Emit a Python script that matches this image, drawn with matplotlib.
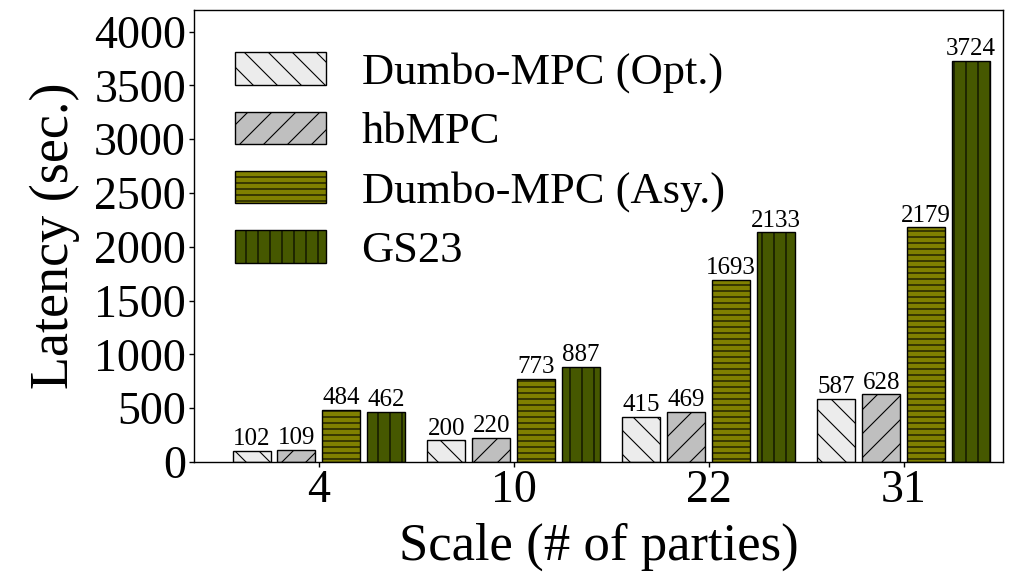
import numpy as np
import matplotlib.pyplot as plt

# saved at 72 dpi so a hatch tile is 72 px (denser hatches, like the reference)
DPI = 72
S = 100 / DPI   # sizes below were worked out at 100 dpi

plt.rcParams['font.family'] = ['Liberation Serif', 'DejaVu Serif']
plt.rcParams['hatch.linewidth'] = 1.1

# data
scales = ['4', '10', '22', '31']
series = ['Dumbo-MPC (Opt.)', 'hbMPC', 'Dumbo-MPC (Asy.)', 'GS23']
opt = [102, 200, 415, 587]
hbmpc = [109, 220, 469, 628]
asy = [484, 773, 1693, 2179]
gs23 = [462, 887, 2133, 3724]

colors = ['#ececec', '#bfbfbf', '#808000', '#465800']
hatches = ['\\', '/', '--', '|']

fig = plt.figure(figsize=(1018 / DPI, 581 / DPI), dpi=DPI)
ax = fig.add_axes([194 / 1018, 119 / 581, 809 / 1018, 452 / 581])

x = np.arange(len(scales))
step = 0.23
width = 0.195
for i, vals in enumerate([opt, hbmpc, asy, gs23]):
    pos = x + (i - 1.5) * step
    ax.bar(pos, vals, width, color=colors[i], edgecolor='black', hatch=hatches[i],
           linewidth=1.0 * S, label=series[i])
    for p, v in zip(pos, vals):
        ax.text(p, v + 8, str(v), ha='center', va='bottom', fontsize=18 * S)

ax.set_xlim(-0.64, 3.51)
ax.set_ylim(0, 4200)
ax.set_xticks(x)
ax.set_xticklabels(scales)
ax.set_yticks(np.arange(0, 4001, 500))
ax.tick_params(axis='both', labelsize=33 * S, direction='out', length=5, width=1.0 * S, pad=3)
for sp in ax.spines.values():
    sp.set_linewidth(1.0 * S)
ax.set_xlabel('Scale (# of parties)', fontsize=38 * S, labelpad=10)
ax.set_ylabel('Latency (sec.)', fontsize=39 * S, labelpad=14)

ax.legend(loc='upper left', bbox_to_anchor=(0.0285, 0.946), frameon=False, fontsize=32 * S,
          handlelength=2.05, handleheight=0.75, labelspacing=0.41, handletextpad=0.8,
          borderaxespad=0)

fig.savefig('out.png', dpi=DPI)
